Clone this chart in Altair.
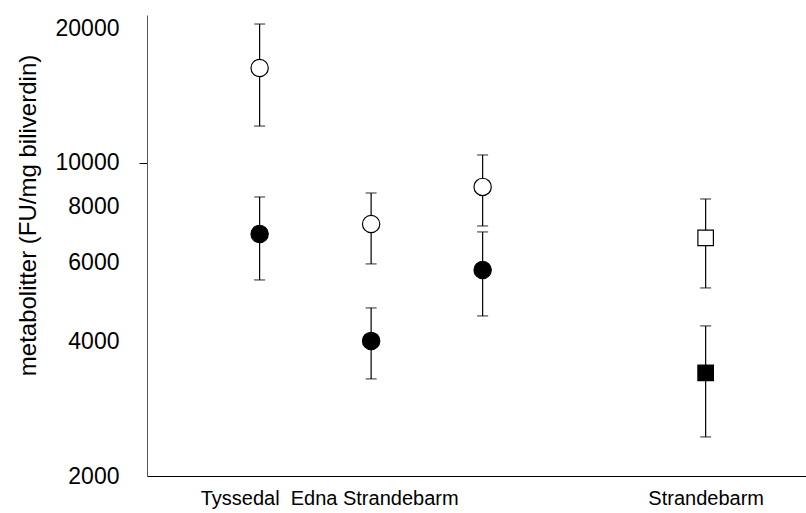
import altair as alt
import pandas as pd

# data
sites = ["Tyssedal", "Tyssedal", "Edna Strandebarm", "Edna Strandebarm",
         "Edna Strandebarm 2", "Edna Strandebarm 2", "Strandebarm", "Strandebarm"]
positions = [1, 1, 2, 2, 3, 3, 5, 5]
means = [16300, 6943, 7308, 4006, 8842, 5770, 6802, 3398]
upper = [20430, 8396, 8570, 4746, 10420, 7015, 8310, 4327]
lower = [12090, 5480, 5951, 3295, 7234, 4555, 5260, 2445]
group = ["open", "filled", "open", "filled", "open", "filled", "open", "filled"]
shapes = ["circle", "circle", "circle", "circle", "circle", "circle", "square", "square"]

x_tick_values = [1, 2, 5]
x_tick_labels = ["Tyssedal", "Edna Strandebarm", "Strandebarm"]
y_tick_values = [2000, 4000, 6000, 8000, 10000, 20000]

df = pd.DataFrame({
    "site": sites, "pos": positions, "mean": means, "upper": upper,
    "lower": lower, "group": group, "shape": shapes,
})

FONT = "Liberation Sans"

label_expr = " : ".join(
    f"datum.value == {v} ? '{l}'" for v, l in zip(x_tick_values, x_tick_labels)
) + " : ''"

x_enc = alt.X(
    "pos:Q",
    scale=alt.Scale(domain=[-0.01, 5.9], nice=False, zero=False),
    axis=alt.Axis(
        values=x_tick_values, labelExpr=label_expr, title=None, grid=False,
        ticks=False, labelPadding=12, labelFontSize=20, labelFont=FONT,
        labelColor="black", domainColor="black", domainWidth=1.2,
        labelOverlap=False, labelBound=False, labelFlush=False, labelLimit=400,
        labelOffset=alt.expr("datum.value == 1 ? -20 : (datum.value == 2 ? 3 : 0)"),
    ),
)
y_scale = alt.Scale(type="log", domain=[2000, 21400], nice=False)

base = alt.Chart(df)

stems = base.mark_rule(color="black", strokeWidth=1.2).encode(
    x=x_enc,
    y=alt.Y("lower:Q", scale=y_scale, axis=alt.Axis(
        values=y_tick_values, format="d", grid=False,
        tickSize=8, tickColor="black",
        tickOpacity=alt.expr("datum.value == 10000 ? 1 : 0"),
        labelPadding=20, labelFontSize=23, labelFont=FONT, labelColor="black",
        labelOverlap=False,
        domainColor="#555555", domainWidth=1,
        title="metabolitter (FU/mg biliverdin)", titleFont=FONT,
        titleFontSize=24, titleFontWeight="normal", titleColor="black",
        titleAngle=-90, titleX=-107, titleY=200, titleBaseline="bottom",
        titleAlign="center",
    )),
    y2="upper:Q",
)

cap_up = base.mark_tick(orient="horizontal", color="black", size=11, thickness=1.2).encode(
    x="pos:Q", y=alt.Y("upper:Q", scale=y_scale)
)
cap_lo = base.mark_tick(orient="horizontal", color="black", size=11, thickness=1.2).encode(
    x="pos:Q", y=alt.Y("lower:Q", scale=y_scale)
)

fill_scale = alt.Scale(domain=["open", "filled"], range=["white", "black"])

circles = base.transform_filter(alt.datum.shape == "circle").mark_point(
    shape="circle", size=300, filled=True, stroke="black", strokeWidth=1.2, opacity=1
).encode(
    x="pos:Q", y=alt.Y("mean:Q", scale=y_scale),
    fill=alt.Fill("group:N", scale=fill_scale, legend=None),
)
squares = base.transform_filter(alt.datum.shape == "square").mark_point(
    shape="square", size=240, filled=True, stroke="black", strokeWidth=1.2, opacity=1
).encode(
    x="pos:Q", y=alt.Y("mean:Q", scale=y_scale),
    fill=alt.Fill("group:N", scale=fill_scale, legend=None),
)

chart = alt.layer(stems, cap_up, cap_lo, circles, squares).properties(
    width=659, height=461,
    autosize=alt.AutoSizeParams(type="none"),
    padding={"left": 147, "top": 15, "right": 0, "bottom": 37},
    background="white",
).configure_view(stroke=None)

chart.save("out.html", embed_options={"renderer": "svg", "actions": False})
